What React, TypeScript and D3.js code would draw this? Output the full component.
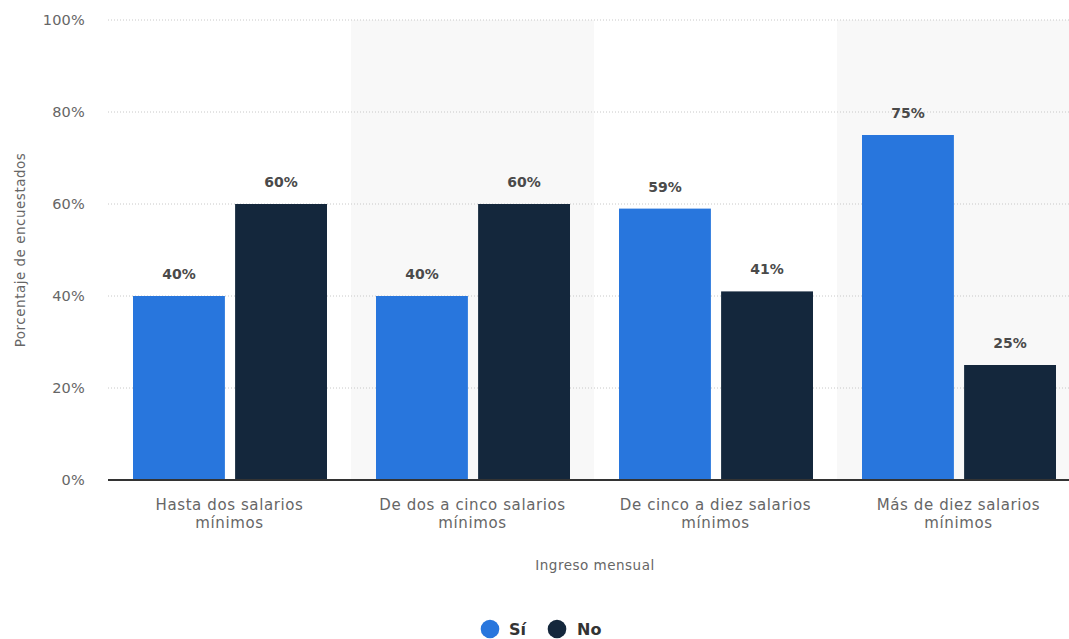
import React from "react";
import * as d3 from "d3";

const categories = [
  ["Hasta dos salarios", "mínimos"],
  ["De dos a cinco salarios", "mínimos"],
  ["De cinco a diez salarios", "mínimos"],
  ["Más de diez salarios", "mínimos"],
];
const seriesNames = ["Sí", "No"];
const siValues = [40, 40, 59, 75];
const noValues = [60, 60, 41, 25];
const yTicks = [0, 20, 40, 60, 80, 100];
const colors = ["#2876dd", "#14273c"];

const W = 1069;
const H = 639;
const left = 108;
const right = 1080;
const top = 20;
const bottom = 480;

export default function App() {
  const x = d3.scaleBand<number>().domain(d3.range(categories.length)).range([left, right]);
  const inner = d3.scaleBand<number>().domain([0, 1]).range([25, x.bandwidth() - 24]).paddingInner(0.1);
  const y = d3.scaleLinear().domain([0, 100]).range([bottom, top]);
  const series = [siValues, noValues];
  const font = "'DejaVu Sans', Verdana, sans-serif";

  return (
    <svg width={W} height={H} style={{ position: "absolute", left: 0, top: 0, fontFamily: font }}>
      <rect x={0} y={0} width={W} height={H} fill="#fff" />
      {categories.map((c, i) =>
        i % 2 === 1 ? (
          <rect key={"bg" + i} x={x(i)} y={top} width={x.bandwidth()} height={bottom - top} fill="#f8f8f8" />
        ) : null
      )}
      {yTicks.map((t) => (
        <g key={"t" + t}>
          {t > 0 && (
            <line x1={left} x2={right} y1={y(t)} y2={y(t)} stroke="#c8c8c8" strokeWidth={1} strokeDasharray="1,2" />
          )}
          <text x={85} y={y(t)} dy="0.35em" textAnchor="end" fontSize={14.5} letterSpacing={0.2} fill="#666">
            {t + "%"}
          </text>
        </g>
      ))}
      {series.map((vals, s) =>
        vals.map((v, i) => {
          const bx = (x(i) as number) + (inner(s) as number);
          return (
            <g key={"b" + s + "-" + i}>
              <rect x={bx} y={y(v)} width={inner.bandwidth()} height={bottom - y(v)} fill={colors[s]} />
              <text
                x={bx + inner.bandwidth() / 2}
                y={y(v) - 22}
                dy="0.35em"
                textAnchor="middle"
                fontSize={14}
                fontWeight="bold"
                fill="#4a4a4a"
              >
                {v + "%"}
              </text>
            </g>
          );
        })
      )}
      <line x1={left} x2={right} y1={bottom} y2={bottom} stroke="#333" strokeWidth={2} />
      {categories.map((c, i) => (
        <text key={"c" + i} x={(x(i) as number) + x.bandwidth() / 2} textAnchor="middle" fontSize={15} letterSpacing={0.6} fill="#666">
          {c.map((line, j) => (
            <tspan key={j} x={(x(i) as number) + x.bandwidth() / 2} y={505 + j * 18} dy="0.35em">
              {line}
            </tspan>
          ))}
        </text>
      ))}
      <text x={595} y={565} dy="0.35em" textAnchor="middle" fontSize={13.5} letterSpacing={0.5} fill="#666">
        Ingreso mensual
      </text>
      <text
        transform={`translate(20,250) rotate(-90)`}
        dy="0.35em"
        textAnchor="middle"
        fontSize={13.5}
        letterSpacing={0.5}
        fill="#666"
      >
        Porcentaje de encuestados
      </text>
      <g>
        <circle cx={490} cy={629} r={9.3} fill={colors[0]} />
        <text x={509} y={629} dy="0.35em" fontSize={16} fontWeight="bold" fill="#333">
          {seriesNames[0]}
        </text>
        <circle cx={557} cy={629} r={9.3} fill={colors[1]} />
        <text x={577} y={629} dy="0.35em" fontSize={16} fontWeight="bold" fill="#333">
          {seriesNames[1]}
        </text>
      </g>
    </svg>
  );
}
